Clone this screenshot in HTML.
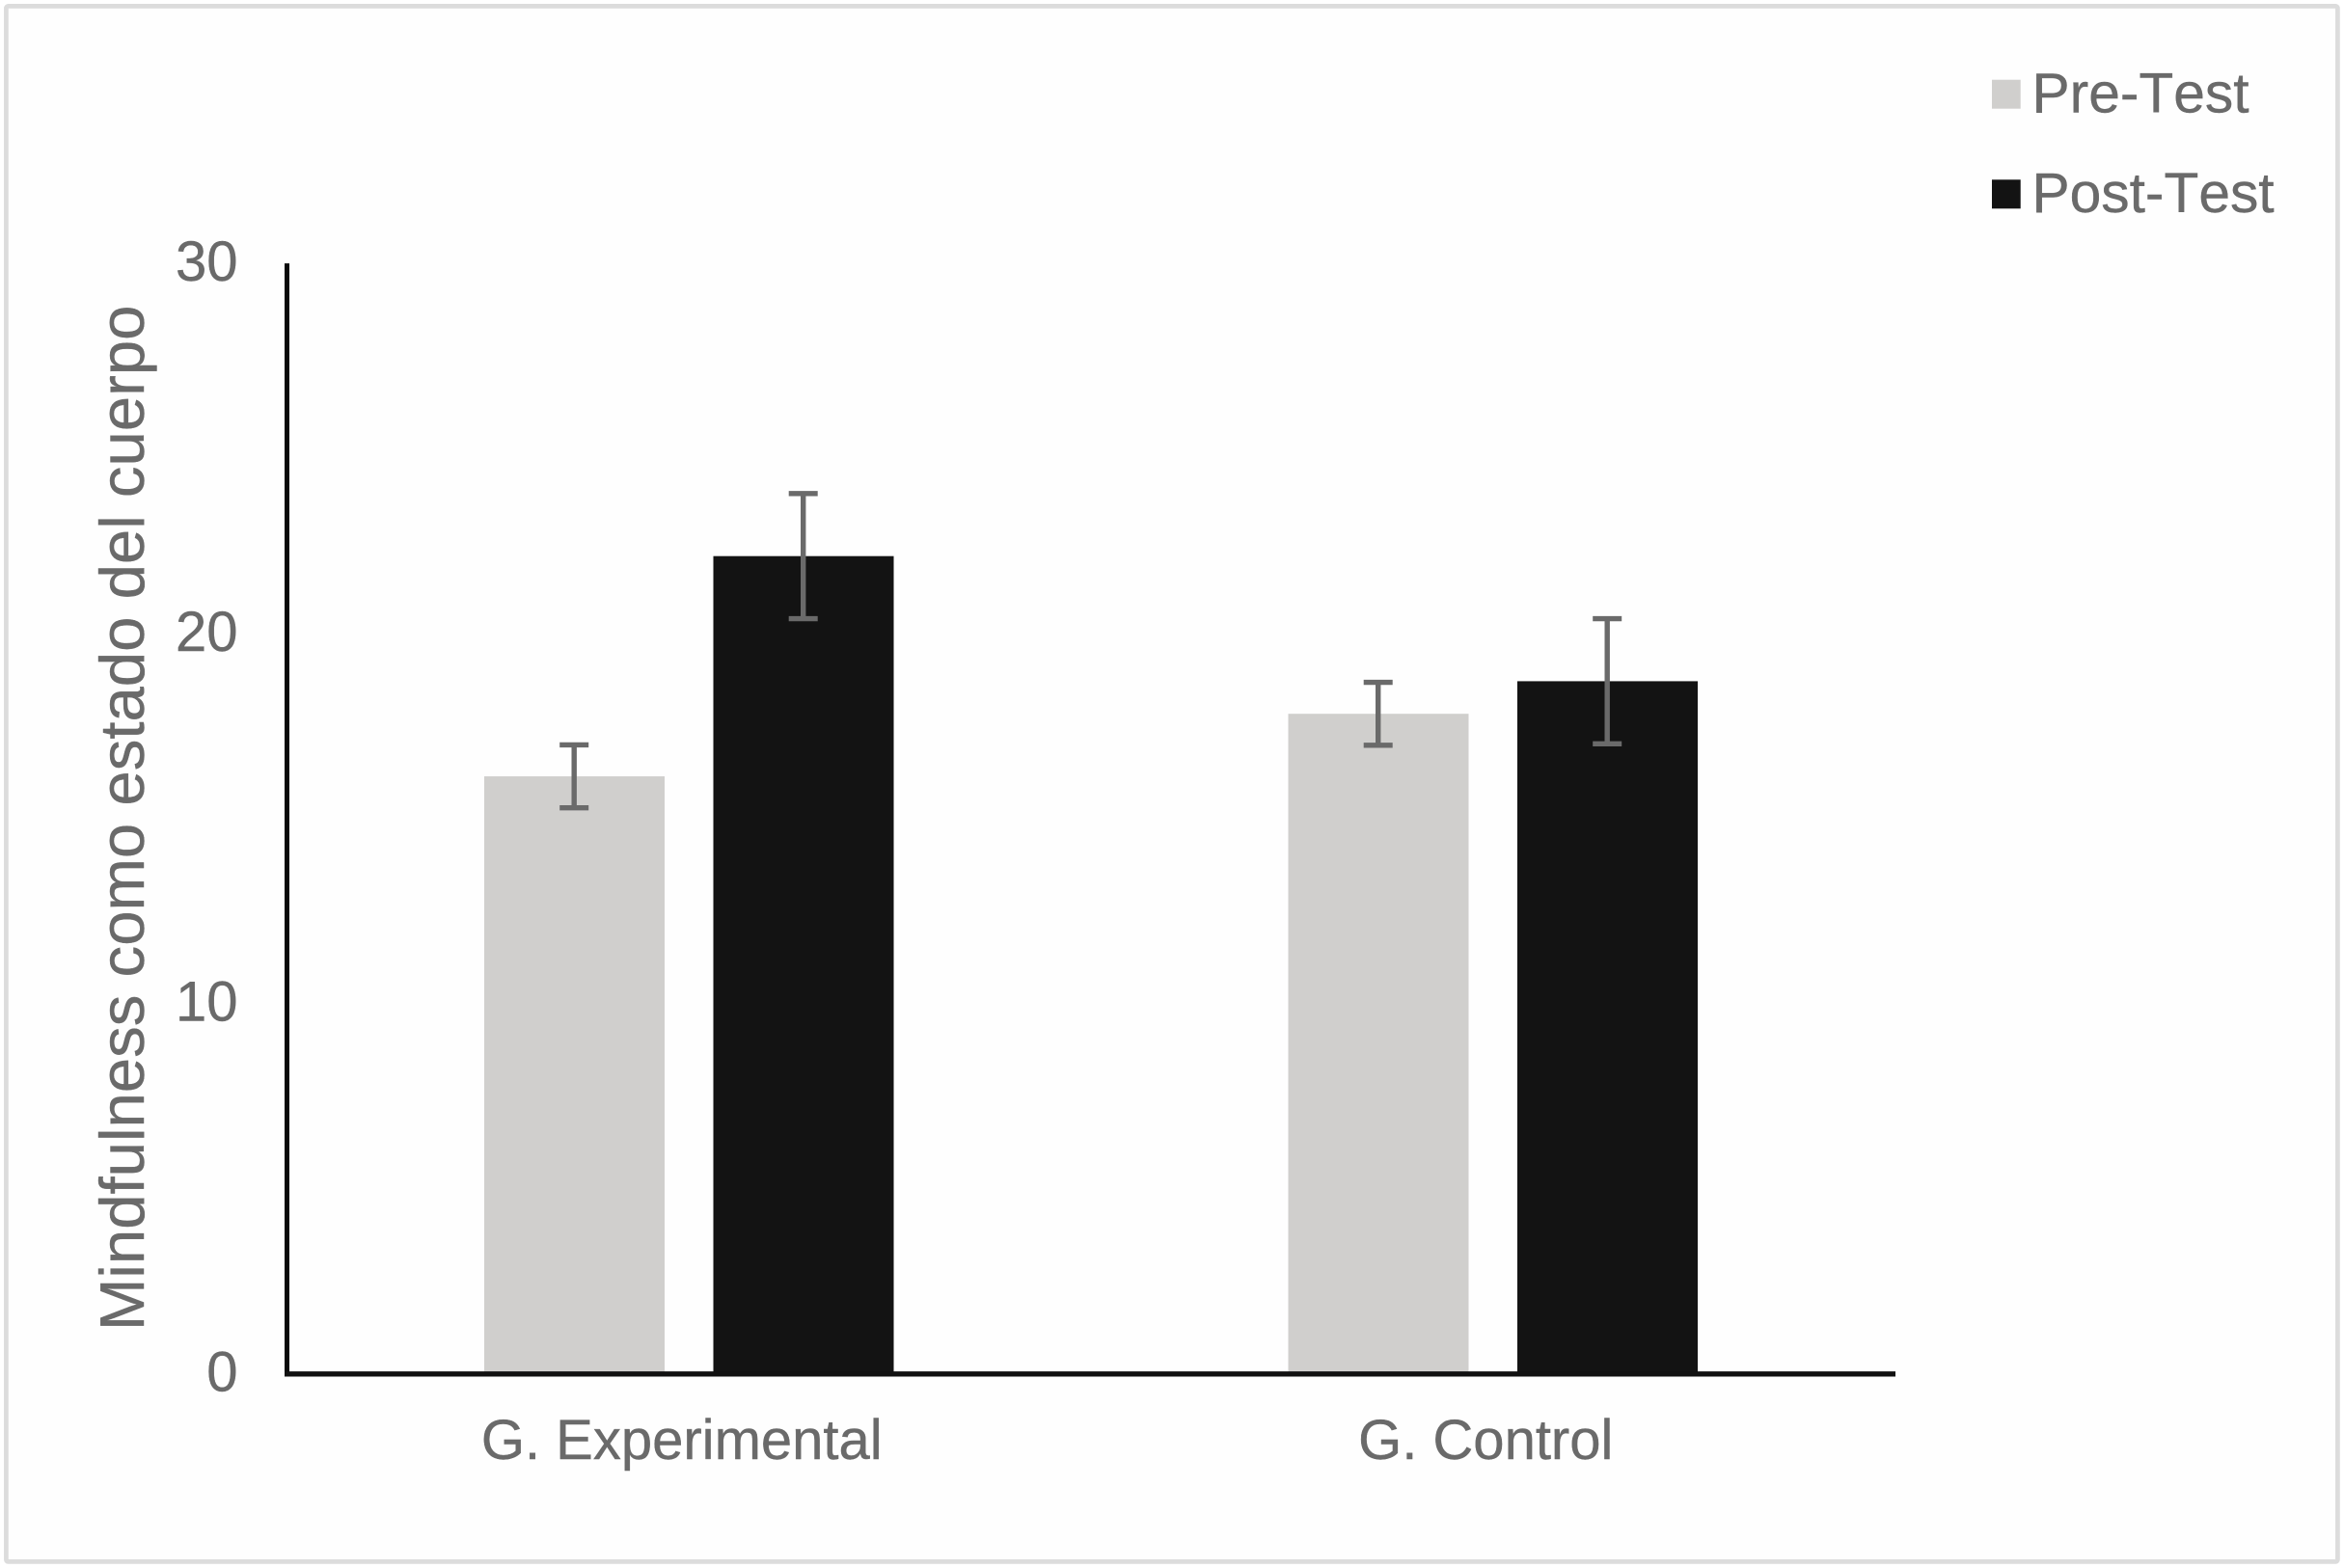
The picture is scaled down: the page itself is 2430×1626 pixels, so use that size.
<!DOCTYPE html>
<html lang="es">
<head>
<meta charset="utf-8">
<title>Mindfulness como estado del cuerpo</title>
<style>
  html, body { margin: 0; padding: 0; background: #ffffff; }
  svg { display: block; }
  text { font-family: "Liberation Sans", Arial, sans-serif; fill: #6a6a6a; stroke: #6a6a6a; stroke-width: 0.4; font-kerning: none; }
</style>
</head>
<body>
<svg id="chart" xmlns="http://www.w3.org/2000/svg" width="2430" height="1626" viewBox="0 0 2430 1626">
  <rect x="6.4" y="6.4" width="2417" height="1613" rx="2" fill="#fefefe" stroke="#dcdcdc" stroke-width="4.7"/>
  <g id="bars"></g>
  <g id="axes"></g>
  <g id="errors"></g>
  <g id="labels"></g>
  <text transform="translate(149 1380) rotate(-90)" font-size="65.3">Mindfulness como estado del cuerpo</text>
  <g>
    <rect x="2065" y="82.7" width="29.7" height="30" fill="#d0cfcd"/>
    <text x="2106.5" y="116.7" font-size="58.7">Pre-Test</text>
    <rect x="2065" y="186.3" width="29.7" height="30" fill="#131313"/>
    <text x="2106.5" y="220" font-size="58.7">Post-Test</text>
  </g>
</svg>
<script>
const categories = ["G. Experimental", "G. Control"];
const preTestValues = [16.14, 17.83];
const postTestValues = [22.09, 18.71];
const preTestErrors = [0.85, 0.85];
const postTestErrors = [1.69, 1.69];
const yTickValues = [0, 10, 20, 30];

const NS = "http://www.w3.org/2000/svg";
const yZero = 1424.5;
const yUnit = 38.38;
const yMax = 30;
const xStart = 297.5;
const bandWidth = 833.5;
const barWidth = 187;
const barOffset = 118.75;

function yScale(v) { return yZero - v * yUnit; }
function xCenter(i) { return xStart + bandWidth * (i + 0.5); }

function make(tag, attrs, parentId) {
  const el = document.createElementNS(NS, tag);
  for (const k in attrs) el.setAttribute(k, attrs[k]);
  document.getElementById(parentId).appendChild(el);
  return el;
}

function drawSeries(values, errors, offset, color, key) {
  values.forEach(function (v, i) {
    const cx = xCenter(i) + offset;
    const top = yScale(v);
    const bar = make("rect", { x: cx - barWidth / 2, y: top, width: barWidth, height: yZero + 2.5 - top, fill: color }, "bars");
    
    

    const hi = yScale(v + errors[i]);
    const lo = yScale(v - errors[i]);
    const errX = cx - 0.3;
    const path = "M" + errX + " " + hi + "V" + lo + "M" + (errX - 15) + " " + hi + "H" + (errX + 15) + "M" + (errX - 15) + " " + lo + "H" + (errX + 15);
    const err = make("path", { d: path, stroke: "#6a6a6a", "stroke-width": 5.4, fill: "none" }, "errors");
    
    
  });
}

drawSeries(preTestValues, preTestErrors, -barOffset, "#d0cfcd", "pre-test");
drawSeries(postTestValues, postTestErrors, barOffset, "#131313", "post-test");

const yAxis = make("line", { x1: xStart, x2: xStart, y1: yScale(yMax), y2: yZero + 2.5, stroke: "#0a0a0a", "stroke-width": 5 }, "axes");



const xAxis = make("line", { x1: xStart - 2.5, x2: 1965, y1: yZero + 0.3, y2: yZero + 0.3, stroke: "#111111", "stroke-width": 5.4 }, "axes");



yTickValues.forEach(function (t) {
  const label = make("text", { x: 246.5, y: yScale(t) + 18, "text-anchor": "end", "font-size": 58 }, "labels");
  label.textContent = String(t);
  
  
});

categories.forEach(function (c, i) {
  const label = make("text", { x: xCenter(i) - 7.5, y: 1513, "text-anchor": "middle", "font-size": 58 }, "labels");
  label.textContent = c;
  
  
});
</script>
</body>
</html>
